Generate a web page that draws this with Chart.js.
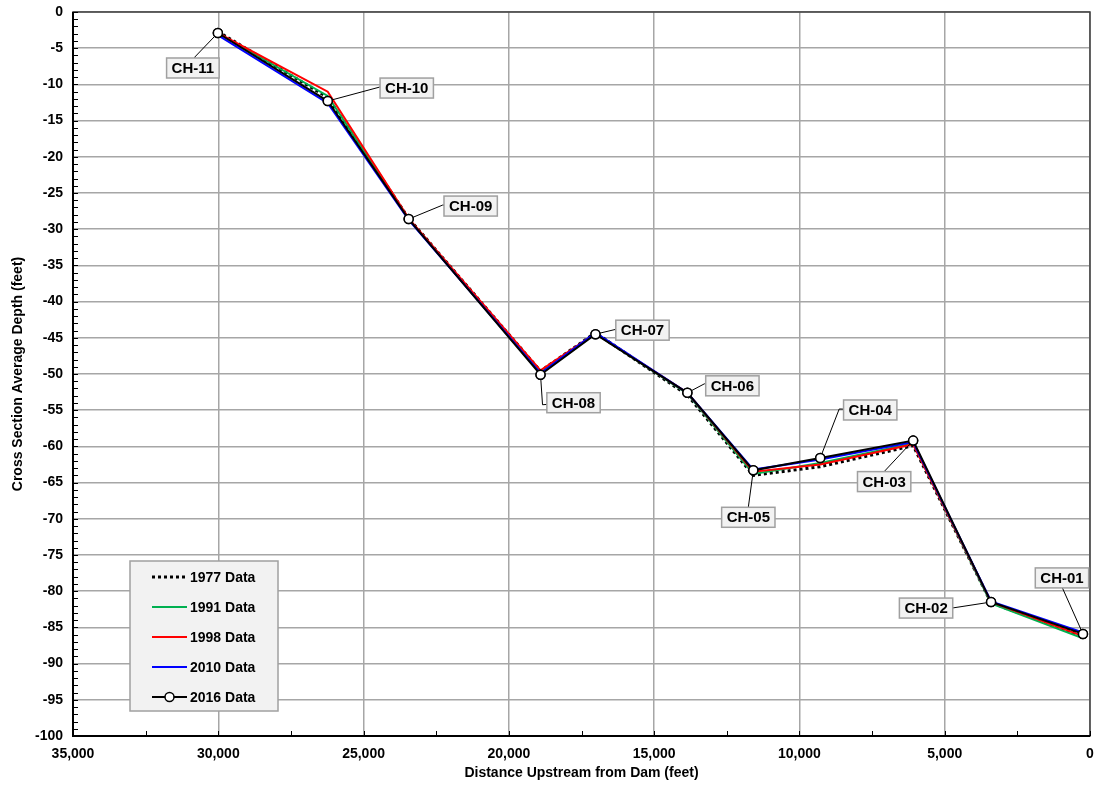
<!DOCTYPE html>
<html lang="en">
<head>
    <meta charset="UTF-8">
    <title>Cross Section Average Depth</title>
    <script src="https://cdn.jsdelivr.net/npm/chart.js"></script>
    <style>
        body {
            margin: 0;
            background: #fff;
        }
        .chart-box {
            width: 1098px;
            height: 788px;
        }
    </style>
</head>
<body>
    <div class="chart-box">
        <canvas id="depthChart" width="1098" height="788"></canvas>
    </div>

    <script>
        // Stations and distances upstream from the dam (feet)
        const stations = ['CH-11', 'CH-10', 'CH-09', 'CH-08', 'CH-07', 'CH-06', 'CH-05', 'CH-04', 'CH-03', 'CH-02', 'CH-01'];
        const distance = [30015, 26233, 23448, 18910, 17019, 13856, 11587, 9284, 6086, 3405, 242];

        // Cross section average depth (feet) per survey
        const depth1977 = [-2.7, -11.8, -28.5, -49.6, -44.3, -52.9, -64.0, -62.8, -59.9, -81.6, -86.2];
        const depth1991 = [-2.9, -11.6, -28.6, -49.8, -44.4, -52.7, -63.8, -62.3, -59.6, -81.7, -86.5];
        const depth1998 = [-2.9, -11.0, -28.5, -49.5, -44.4, -52.6, -63.5, -62.5, -59.7, -81.5, -86.2];
        const depth2010 = [-3.2, -12.6, -28.7, -49.9, -44.3, -52.6, -63.2, -61.8, -59.4, -81.4, -85.7];
        const depth2016 = [-2.9, -12.3, -28.6, -50.1, -44.5, -52.6, -63.3, -61.6, -59.2, -81.5, -85.9];

        const seriesNames = ['1977 Data', '1991 Data', '1998 Data', '2010 Data', '2016 Data'];

        // Callout placement in pixels, relative to each 2016 point: [boxDx, boxDy, elbowDx, elbowDy]
        const calloutOffsets = [
            [-25, 35, -23, 24],
            [79, -13, 52, -14],
            [62, -13, 34, -14],
            [33, 28, 2, 30],
            [47, -4, 21, -5],
            [45, -7, 17, -9],
            [-5, 47, -5, 37],
            [50, -48, 19, -49],
            [-29, 41, -29, 31],
            [-65, 6, -39, 6],
            [-21, -56, -21, -47]
        ];

        const FONT = "'Liberation Sans', Arial, sans-serif";

        function toPoints(values) {
            return distance.map((d, i) => ({ x: d, y: values[i] }));
        }

        // Plot frame, minor ticks, station callouts and legend box
        const overlay = {
            id: 'overlay',
            afterDraw(chart) {
                const { ctx, chartArea: a, scales: { x, y } } = chart;
                ctx.save();

                // frame
                ctx.lineWidth = 1.5;
                ctx.strokeStyle = '#404040';
                ctx.strokeRect(a.left, a.top, a.right - a.left, a.bottom - a.top);
                ctx.strokeStyle = '#000';
                ctx.lineWidth = 2;
                ctx.beginPath();
                ctx.moveTo(a.left, a.top);
                ctx.lineTo(a.left, a.bottom);
                ctx.lineTo(a.right, a.bottom);
                ctx.stroke();

                // minor ticks
                ctx.lineWidth = 1;
                ctx.beginPath();
                for (let v = -100; v <= 0; v += 1) {
                    const py = Math.round(y.getPixelForValue(v)) + 0.5;
                    ctx.moveTo(a.left, py);
                    ctx.lineTo(a.left + 5, py);
                }
                for (let v = 0; v <= 35000; v += 2500) {
                    const px = Math.round(x.getPixelForValue(v)) + 0.5;
                    ctx.moveTo(px, a.bottom);
                    ctx.lineTo(px, a.bottom - 5);
                }
                ctx.stroke();

                // station callouts
                ctx.font = 'bold 15px ' + FONT;
                ctx.textAlign = 'center';
                ctx.textBaseline = 'middle';
                stations.forEach((name, i) => {
                    const px = x.getPixelForValue(distance[i]);
                    const py = y.getPixelForValue(depth2016[i]);
                    const [bdx, bdy, edx, edy] = calloutOffsets[i];
                    const bx = px + bdx, by = py + bdy;
                    const w = ctx.measureText(name).width + 10, h = 20;

                    ctx.strokeStyle = '#000';
                    ctx.lineWidth = 1;
                    ctx.beginPath();
                    ctx.moveTo(px, py);
                    ctx.lineTo(px + edx, py + edy);
                    ctx.lineTo(bx, by);
                    ctx.stroke();

                    ctx.fillStyle = '#f2f2f2';
                    ctx.fillRect(bx - w / 2, by - h / 2, w, h);
                    ctx.strokeStyle = '#a0a0a0';
                    ctx.lineWidth = 1.5;
                    ctx.strokeRect(bx - w / 2, by - h / 2, w, h);
                    ctx.fillStyle = '#000';
                    ctx.fillText(name, bx, by + 1);
                });

                // redraw the 2016 markers over the callout leaders
                const meta = chart.getDatasetMeta(4);
                meta.data.forEach(pt => {
                    ctx.beginPath();
                    ctx.arc(pt.x, pt.y, 4.5, 0, Math.PI * 2);
                    ctx.fillStyle = '#fff';
                    ctx.fill();
                    ctx.strokeStyle = '#000';
                    ctx.lineWidth = 1.5;
                    ctx.stroke();
                });

                // legend
                const lx = 130, ly = 561, lw = 148, lh = 150;
                ctx.fillStyle = '#f2f2f2';
                ctx.fillRect(lx, ly, lw, lh);
                ctx.strokeStyle = '#a0a0a0';
                ctx.lineWidth = 1.5;
                ctx.strokeRect(lx, ly, lw, lh);

                ctx.font = 'bold 14px ' + FONT;
                ctx.textAlign = 'left';
                chart.data.datasets.forEach((ds, i) => {
                    const cy = 577 + i * 30;
                    ctx.strokeStyle = ds.borderColor;
                    ctx.lineWidth = ds.borderWidth;
                    ctx.setLineDash(ds.borderDash || []);
                    ctx.beginPath();
                    ctx.moveTo(152, cy);
                    ctx.lineTo(187, cy);
                    ctx.stroke();
                    ctx.setLineDash([]);
                    if (ds.pointRadius > 0) {
                        ctx.beginPath();
                        ctx.arc(169.5, cy, 4.5, 0, Math.PI * 2);
                        ctx.fillStyle = '#fff';
                        ctx.fill();
                        ctx.lineWidth = 1.5;
                        ctx.stroke();
                    }
                    ctx.fillStyle = '#000';
                    ctx.fillText(ds.label, 190, cy + 1);
                });

                ctx.restore();
            }
        };

        const ctx = document.getElementById('depthChart').getContext('2d');
        const depthChart = new Chart(ctx, {
            type: 'scatter',
            data: {
                datasets: [
                    {
                        label: seriesNames[0],
                        data: toPoints(depth1977),
                        borderColor: '#000',
                        borderWidth: 3,
                        borderDash: [3, 3],
                        pointRadius: 0,
                        order: 4
                    },
                    {
                        label: seriesNames[1],
                        data: toPoints(depth1991),
                        borderColor: '#00b050',
                        borderWidth: 2,
                        pointRadius: 0,
                        order: 3
                    },
                    {
                        label: seriesNames[2],
                        data: toPoints(depth1998),
                        borderColor: '#ff0000',
                        borderWidth: 2,
                        pointRadius: 0,
                        order: 2
                    },
                    {
                        label: seriesNames[3],
                        data: toPoints(depth2010),
                        borderColor: '#0000ff',
                        borderWidth: 2,
                        pointRadius: 0,
                        order: 1
                    },
                    {
                        label: seriesNames[4],
                        data: toPoints(depth2016),
                        borderColor: '#000',
                        borderWidth: 2,
                        pointRadius: 4.5,
                        pointBackgroundColor: '#fff',
                        pointBorderColor: '#000',
                        pointBorderWidth: 1.5,
                        order: 0
                    }
                ]
            },
            options: {
                responsive: false,
                animation: false,
                showLine: true,
                layout: { padding: { left: 0, right: 8, top: 12, bottom: 0 } },
                plugins: {
                    legend: { display: false },
                    tooltip: { enabled: false }
                },
                scales: {
                    x: {
                        type: 'linear',
                        reverse: true,
                        min: 0,
                        max: 35000,
                        afterFit: scale => {
                            scale.height = 52;
                            scale.paddingLeft = 0;
                            scale.paddingRight = 0;
                        },
                        grid: { color: '#a6a6a6', lineWidth: 1.5, drawTicks: false },
                        border: { display: false },
                        ticks: {
                            stepSize: 5000,
                            padding: 10,
                            color: '#000',
                            font: { family: FONT, size: 14, weight: 'bold' },
                            callback: v => v.toLocaleString('en-US')
                        },
                        title: {
                            display: true,
                            text: 'Distance Upstream from Dam (feet)',
                            color: '#000',
                            font: { family: FONT, size: 14, weight: 'bold' },
                            padding: { top: 0, bottom: 6 }
                        }
                    },
                    y: {
                        type: 'linear',
                        min: -100,
                        max: 0,
                        afterFit: scale => {
                            scale.width = 73;
                            scale.paddingTop = 0;
                            scale.paddingBottom = 0;
                        },
                        grid: { color: '#a6a6a6', lineWidth: 1.5, drawTicks: false },
                        border: { display: false },
                        ticks: {
                            stepSize: 5,
                            padding: 10,
                            color: '#000',
                            font: { family: FONT, size: 14, weight: 'bold' }
                        },
                        title: {
                            display: true,
                            text: 'Cross Section Average Depth (feet)',
                            color: '#000',
                            font: { family: FONT, size: 14, weight: 'bold' },
                            padding: { top: 10, bottom: 0 }
                        }
                    }
                }
            },
            plugins: [overlay]
        });
    </script>
</body>
</html>
